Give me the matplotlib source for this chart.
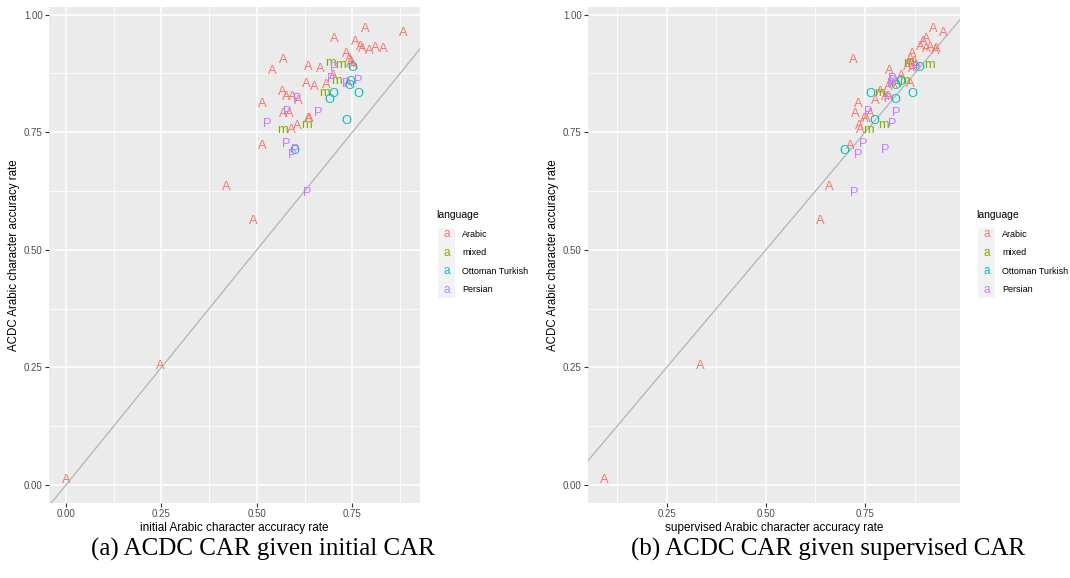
import matplotlib
matplotlib.use("Agg")
import matplotlib.pyplot as plt
from matplotlib.patches import Rectangle
import numpy as np

# ---------------- data ----------------
arabic_initial = [0.785, 0.883, 0.702, 0.758, 0.772, 0.776, 0.793, 0.809, 0.830, 0.734,
                  0.742, 0.748, 0.745, 0.752, 0.568, 0.540, 0.634, 0.666, 0.699, 0.629,
                  0.651, 0.681, 0.740, 0.566, 0.577, 0.592, 0.609, 0.514, 0.568, 0.586,
                  0.635, 0.638, 0.605, 0.589, 0.514, 0.420, 0.491, 0.248, 0.000]
arabic_supervised = [0.921, 0.947, 0.905, 0.896, 0.890, 0.905, 0.926, 0.915, 0.928, 0.870,
                     0.865, 0.875, 0.860, 0.880, 0.720, 0.810, 0.855, 0.868, 0.842, 0.832,
                     0.808, 0.820, 0.864, 0.787, 0.808, 0.800, 0.775, 0.733, 0.724, 0.762,
                     0.747, 0.752, 0.735, 0.737, 0.712, 0.661, 0.638, 0.334, 0.092]
arabic_acdc = [0.970, 0.961, 0.947, 0.942, 0.931, 0.926, 0.922, 0.928, 0.926, 0.917,
               0.905, 0.900, 0.895, 0.890, 0.904, 0.880, 0.889, 0.885, 0.870, 0.852,
               0.846, 0.850, 0.853, 0.836, 0.824, 0.824, 0.817, 0.809, 0.788, 0.788,
               0.779, 0.779, 0.763, 0.754, 0.720, 0.634, 0.562, 0.253, 0.011]

mixed_initial = [0.692, 0.718, 0.709, 0.676, 0.568, 0.631]
mixed_supervised = [0.858, 0.913, 0.850, 0.787, 0.758, 0.797]
mixed_acdc = [0.897, 0.892, 0.858, 0.834, 0.754, 0.765]

ottoman_initial = [0.749, 0.744, 0.742, 0.765, 0.699, 0.689, 0.733, 0.599]
ottoman_supervised = [0.886, 0.839, 0.825, 0.870, 0.764, 0.827, 0.773, 0.699]
ottoman_acdc = [0.887, 0.857, 0.848, 0.832, 0.831, 0.819, 0.773, 0.710]

persian_initial = [0.633, 0.592, 0.600, 0.576, 0.527, 0.661, 0.580, 0.605,
                   0.735, 0.766, 0.694, 0.702]
persian_supervised = [0.722, 0.733, 0.800, 0.745, 0.819, 0.829, 0.758, 0.808,
                      0.815, 0.822, 0.818, 0.880]
persian_acdc = [0.621, 0.701, 0.713, 0.724, 0.767, 0.790, 0.793, 0.821,
                0.853, 0.859, 0.862, 0.887]

languages = ["Arabic", "mixed", "Ottoman Turkish", "Persian"]
letters = ["A", "m", "O", "P"]
colors = ["#F8766D", "#7CAE00", "#00BFC4", "#C77CFF"]

series = {
    "Arabic": (arabic_initial, arabic_supervised, arabic_acdc),
    "mixed": (mixed_initial, mixed_supervised, mixed_acdc),
    "Ottoman Turkish": (ottoman_initial, ottoman_supervised, ottoman_acdc),
    "Persian": (persian_initial, persian_supervised, persian_acdc),
}

ticks = [0.0, 0.25, 0.5, 0.75, 1.0]
tick_labels = ["0.00", "0.25", "0.50", "0.75", "1.00"]
captions = ["(a) ACDC CAR given initial CAR", "(b) ACDC CAR given supervised CAR"]
xlabels = ["initial Arabic character accuracy rate", "supervised Arabic character accuracy rate"]
ylabel = "ACDC Arabic character accuracy rate"

# ---------------- figure ----------------
W, H = 1070, 578
fig = plt.figure(figsize=(W / 100, H / 100), dpi=100)
plt.rcParams["font.family"] = ["Liberation Sans", "DejaVu Sans"]

panels = [
    dict(rect=(49, 7, 420, 503), xlim=(-0.044, 0.927), xi=0, leg_x=438, cap_x=263),
    dict(rect=(588, 7, 960, 503), xlim=(0.052, 0.989), xi=1, leg_x=978, cap_x=828),
]


def px2fig(x0, y0, x1, y1):
    return [x0 / W, 1 - y1 / H, (x1 - x0) / W, (y1 - y0) / H]


for p in panels:
    ax = fig.add_axes(px2fig(*p["rect"]))
    ax.set_facecolor("#EBEBEB")
    ax.set_xlim(*p["xlim"])
    ax.set_ylim(-0.038, 1.016)
    xt = [t for t in ticks if p["xlim"][0] <= t <= p["xlim"][1]]
    ax.set_xticks(xt)
    ax.set_xticklabels([tick_labels[ticks.index(t)] for t in xt])
    ax.set_yticks(ticks)
    ax.set_yticklabels(tick_labels)
    minor = [0.125, 0.375, 0.625, 0.875]
    ax.set_xticks([m for m in minor if p["xlim"][0] <= m <= p["xlim"][1]], minor=True)
    ax.set_yticks(minor, minor=True)
    ax.grid(which="major", color="white", linewidth=1.1)
    ax.grid(which="minor", color="white", linewidth=0.55)
    ax.set_axisbelow(True)
    for s in ax.spines.values():
        s.set_visible(False)
    ax.tick_params(which="major", length=3, width=0.8, color="#333333",
                   labelsize=7, labelcolor="#4D4D4D", pad=1.5)
    ax.tick_params(which="minor", length=0)
    ax.set_xlabel(xlabels[p["xi"]], fontsize=8.5, color="black", labelpad=2)
    ax.set_ylabel(ylabel, fontsize=8.3, color="black", labelpad=3)

    ax.axline((0, 0), slope=1, color="#B8B8B8", linewidth=1.0, zorder=2)

    for lang, let, col in zip(languages, letters, colors):
        xs = series[lang][p["xi"]]
        ys = series[lang][2]
        for x, y in zip(xs, ys):
            ax.text(x, y, let, color=col, fontsize=9.3, ha="center", va="center",
                    zorder=3)

    # legend
    lx = p["leg_x"]
    fig.text((lx - 2) / W, 1 - 215 / H, "language", fontsize=7.5, ha="left", va="center")
    fig.patches.append(Rectangle((lx / W, 1 - 298 / H), 17 / W, 70 / H,
                                 transform=fig.transFigure, facecolor="#F2F2F2",
                                 edgecolor="none"))
    for i, (lang, col) in enumerate(zip(languages, colors)):
        yy = 234.5 + i * 18.4
        fig.text((lx + 8.5) / W, 1 - yy / H, "a", color=col, fontsize=8.5,
                 ha="center", va="center")
        fig.text((lx + 24) / W, 1 - yy / H, lang, fontsize=6.5, ha="left", va="center")

    fig.text(p["cap_x"] / W, 1 - 549 / H, captions[p["xi"]], fontsize=18,
             family="Liberation Serif", ha="center", va="center")

fig.savefig("out.png", dpi=100, facecolor="white")
